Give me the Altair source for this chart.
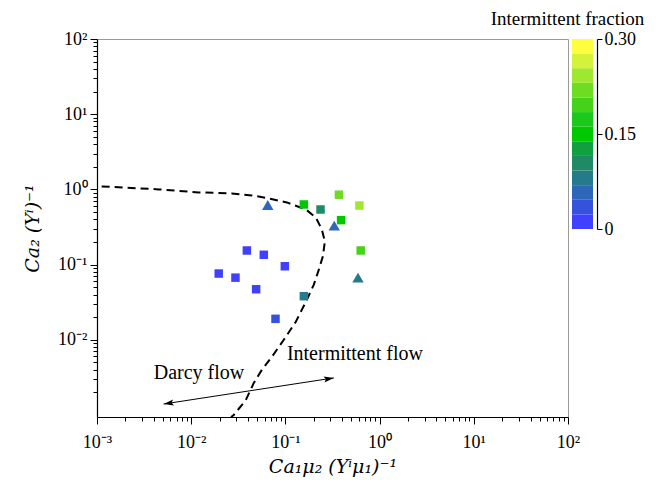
import altair as alt
import pandas as pd

# ---------------- data ----------------
pt_x = [0.039, 0.059, 0.0986, 0.0196, 0.0295, 0.0489, 0.0785, 0.157, 0.157, 0.236, 0.37, 0.61, 0.39, 0.63,
        0.065, 0.33, 0.59]
pt_y = [0.154, 0.135, 0.095, 0.076, 0.067, 0.047, 0.019, 0.038, 0.63, 0.54, 0.85, 0.61, 0.39, 0.154,
        0.62, 0.33, 0.067]
pt_frac = [0.01, 0.01, 0.01, 0.01, 0.01, 0.01, 0.035, 0.08, 0.15, 0.105, 0.22, 0.24, 0.15, 0.195,
           0.058, 0.058, 0.08]
pt_shape = ["square"] * 14 + ["triangle"] * 3

curve_x = [0.00112, 0.00452, 0.0120, 0.0269, 0.0440, 0.0667, 0.1035, 0.165, 0.2105, 0.2437, 0.2624,
           0.2496, 0.2264, 0.2004, 0.165, 0.129, 0.0962, 0.0718, 0.0562, 0.0462, 0.038, 0.0283, 0.0265]
curve_y = [1.096, 1.0, 0.912, 0.885, 0.832, 0.759, 0.671, 0.541, 0.423, 0.293, 0.203,
           0.128, 0.0858, 0.0541, 0.0321, 0.0174, 0.01, 0.00593, 0.00398, 0.00267, 0.00158, 0.001, 0.00094]

arrow_x = [0.0051, 0.327]
arrow_y = [0.0014, 0.00311]
arrow_dir = ["left", "right"]

label_text = ["Darcy flow", "Intermittent flow"]
label_x = [0.004, 0.1037]
label_y = [0.00363, 0.0065]

cb_colors = ["#4040ff", "#3552dd", "#2e66b8", "#257a8c", "#1e8a66", "#10a040", "#00c800",
             "#1cc81c", "#44d21a", "#6edc22", "#a0e830", "#d4f23a", "#ffff40"]
cb_ticks = [0, 0.15, 0.30]
frac_max = 0.30

x_major = [1e-3, 1e-2, 1e-1, 1, 10, 100]
y_major = [1e-2, 1e-1, 1, 10, 100]
x_minor = [k * 10.0 ** d for d in range(-3, 2) for k in range(2, 10)]
y_minor = [k * 10.0 ** d for d in range(-4, 2) for k in range(2, 10) if k * 10.0 ** d > 9.4e-4]

# ---------------- tables ----------------
pts = pd.DataFrame({"x": pt_x, "y": pt_y, "frac": pt_frac, "shape": pt_shape})
curve = pd.DataFrame({"x": curve_x, "y": curve_y, "i": list(range(len(curve_x)))})
arrow = pd.DataFrame({"x": arrow_x, "y": arrow_y, "dir": arrow_dir})
labels = pd.DataFrame({"x": label_x, "y": label_y, "t": label_text})
n = len(cb_colors)
bands = pd.DataFrame({
    "lo": [frac_max * i / n for i in range(n)],
    "hi": [frac_max * (i + 1) / n for i in range(n)],
    "mid": [frac_max * (i + 0.5) / n for i in range(n)],
})

FONT = "Liberation Serif"
TFONT = "DejaVu Serif"


def sup_expr():
    m = {-4: "10⁻⁴", -3: "10⁻³", -2: "10⁻²", -1: "10⁻¹", 0: "10⁰", 1: "10¹", 2: "10²"}
    e = "round(log(datum.value)/LN10)"
    s = "''"
    for k, v in m.items():
        s = f"({e}=={k} ? '{v}' : {s})"
    return s


xs = alt.Scale(type="log", domain=[1e-3, 1e2], nice=False)
ys = alt.Scale(type="log", domain=[9.4e-4, 1e2], nice=False)
cscale = alt.Scale(type="quantize", domain=[0, frac_max], range=cb_colors, nice=False, zero=False)

major_x_axis = alt.Axis(orient="bottom", values=x_major, labelExpr=sup_expr(), tickSize=7,
                        labelFont=FONT, labelFontSize=18, labelColor="black", labelPadding=9,
                        domainColor="black", domainWidth=1.2, tickColor="black", grid=False,
                        title="Ca₁μ₂ (Yⁱμ₁)⁻¹", titleFont=TFONT, titleFontSize=19,
                        titleFontStyle="italic", titleFontWeight="normal", titleColor="black",
                        titlePadding=6, labelFlush=False, labelOverlap=False)
major_y_axis = alt.Axis(orient="left", values=y_major, labelExpr=sup_expr(), tickSize=7,
                        labelFont=FONT, labelFontSize=18, labelColor="black", labelPadding=3,
                        domainColor="black", domainWidth=1.2, tickColor="black", grid=False,
                        title="Ca₂ (Yⁱ)⁻¹", titleFont=TFONT, titleFontSize=19,
                        titleFontStyle="italic", titleFontWeight="normal", titleColor="black",
                        titlePadding=15, labelFlush=False, labelOverlap=False)
minor_x_axis = alt.Axis(orient="bottom", values=x_minor, labels=False, tickSize=4, domain=False,
                        tickColor="black", grid=False, title=None)
minor_y_axis = alt.Axis(orient="left", values=y_minor, labels=False, tickSize=4, domain=False,
                        tickColor="black", grid=False, title=None)

points = alt.Chart(pts).mark_point(filled=True, opacity=1, strokeWidth=0).encode(
    x=alt.X("x:Q", scale=xs, axis=major_x_axis),
    y=alt.Y("y:Q", scale=ys, axis=major_y_axis),
    color=alt.Color("frac:Q", scale=cscale, legend=None),
    shape=alt.Shape("shape:N", scale=alt.Scale(domain=["square", "triangle"],
                                               range=["square", "triangle-up"]), legend=None),
    size=alt.Size("shape:N", scale=alt.Scale(domain=["square", "triangle"], range=[72, 130]),
                  legend=None),
)

line = alt.Chart(curve).mark_line(color="black", strokeWidth=2, strokeDash=[8, 5]).encode(
    x=alt.X("x:Q", scale=xs, axis=minor_x_axis),
    y=alt.Y("y:Q", scale=ys, axis=minor_y_axis),
    order="i:Q",
)

arrow_line = alt.Chart(arrow).mark_line(color="black", strokeWidth=1).encode(
    x=alt.X("x:Q", scale=xs, axis=None),
    y=alt.Y("y:Q", scale=ys, axis=None),
)
head_r = alt.Chart(arrow[arrow.dir == "right"]).mark_point(
    shape="M0,0 L-2,-0.6 L-1.6,0 L-2,0.6 Z", filled=True, color="black", size=100, angle=351.3,
    opacity=1, strokeWidth=0).encode(
    x=alt.X("x:Q", scale=xs, axis=None), y=alt.Y("y:Q", scale=ys, axis=None))
head_l = alt.Chart(arrow[arrow.dir == "left"]).mark_point(
    shape="M0,0 L2,-0.6 L1.6,0 L2,0.6 Z", filled=True, color="black", size=100, angle=351.3,
    opacity=1, strokeWidth=0).encode(
    x=alt.X("x:Q", scale=xs, axis=None), y=alt.Y("y:Q", scale=ys, axis=None))

texts = alt.Chart(labels).mark_text(align="left", baseline="middle", font=FONT, fontSize=20,
                                    color="black").encode(
    x=alt.X("x:Q", scale=xs, axis=None), y=alt.Y("y:Q", scale=ys, axis=None), text="t:N")

main = alt.layer(line, points, arrow_line, head_r, head_l, texts).resolve_axis(
    x="independent", y="independent").properties(
    width=471, height=378, view=alt.ViewBackground(stroke="#999999", strokeWidth=1))

colorbar = alt.Chart(bands).mark_rect().encode(
    y=alt.Y("lo:Q", scale=alt.Scale(domain=[0, frac_max], nice=False, zero=False),
            axis=alt.Axis(orient="right", values=cb_ticks,
                          labelExpr="datum.value == 0 ? '0' : format(datum.value, '.2f')",
                          tickSize=5, offset=4, domainColor="black", domainWidth=1.2,
                          tickColor="black", labelFont=FONT, labelFontSize=18, labelColor="black",
                          labelPadding=2, grid=False, title=None, labelFlush=False)),
    y2="hi:Q",
    color=alt.Color("mid:Q", scale=cscale, legend=None),
).properties(width=21, height=190,
             view=alt.ViewBackground(strokeOpacity=0),
             title=alt.TitleParams("Intermittent fraction", font=FONT, fontSize=19,
                                   fontWeight="normal", color="black", anchor="middle",
                                   dx=-15, offset=1))

chart = alt.hconcat(main, colorbar, spacing=4, bounds="flush").properties(
    padding={"left": 15, "top": 2, "right": 4, "bottom": 0})

chart.save("out.html", embed_options={"renderer": "svg", "actions": False})
